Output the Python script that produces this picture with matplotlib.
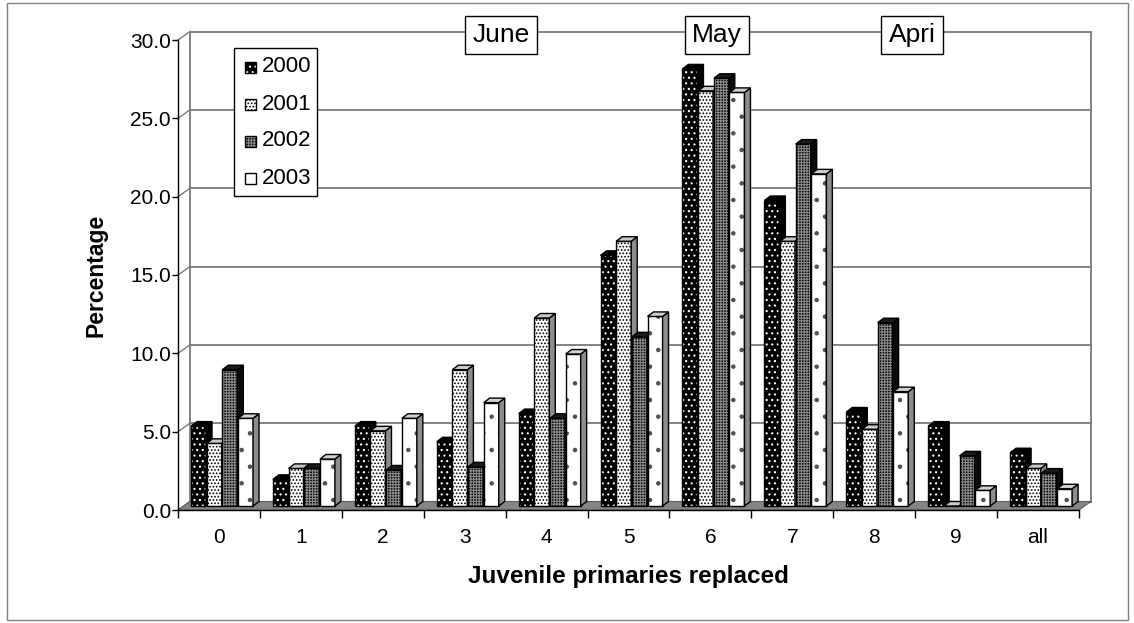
import matplotlib
matplotlib.use("Agg")
import matplotlib.pyplot as plt
from matplotlib.patches import Rectangle, Polygon

# ---- data -------------------------------------------------------------
categories = ["0", "1", "2", "3", "4", "5", "6", "7", "8", "9", "all"]
years = ["2000", "2001", "2002", "2003"]
pct_2000 = [5.1, 1.7, 5.1, 4.1, 5.9, 16.0, 27.9, 19.5, 6.0, 5.1, 3.4]
pct_2001 = [4.0, 2.4, 4.8, 8.7, 12.0, 16.9, 26.5, 16.9, 4.9, 0.0, 2.4]
pct_2002 = [8.7, 2.4, 2.3, 2.5, 5.6, 10.8, 27.3, 23.1, 11.7, 3.2, 2.1]
pct_2003 = [5.6, 3.0, 5.6, 6.6, 9.7, 12.1, 26.4, 21.2, 7.3, 1.0, 1.1]
y_ticks = [0, 5, 10, 15, 20, 25, 30]
month_labels = ["June", "May", "Apri"]

series = [pct_2000, pct_2001, pct_2002, pct_2003]

# ---- figure / axes ----------------------------------------------------
W, H = 1134, 623
FONT = "Liberation Sans"
plt.rcParams["hatch.linewidth"] = 0.8
fig = plt.figure(figsize=(W / 100, H / 100), dpi=100)
fig.patch.set_facecolor("white")


def fx(x):
    return x / W


def fy(y):
    return 1 - y / H


# front plane of the chart: left axis at x=178 px, floor front edge at y=510 px
ax = fig.add_axes([fx(178), fy(510), (1079 - 178) / W, (510 - 40) / H])
ax.set_xlim(-0.5, len(categories) - 0.5)
ax.set_ylim(0, 30)
ax.patch.set_visible(False)

xu = (1079 - 178) / len(categories)   # px per category
yu = (510 - 40) / 30.0                 # px per percent

# depth of the back wall and of each column, in data units
wall_dx, wall_dy = 12 / xu, 8.5 / yu
bar_dx, bar_dy = 6 / xu, 4.5 / yu
base_dy = 4 / yu

# outer frame
fig.add_artist(Rectangle((fx(7), fy(620)), (1128 - 7) / W, (620 - 3) / H,
                         transform=fig.transFigure, fill=False,
                         edgecolor="#808080", lw=1.0))

grid_col = "#7a7a7a"
x_left, x_right = -0.5, len(categories) - 0.5

# floor
ax.add_patch(Polygon([(x_left, 0), (x_right, 0),
                      (x_right + wall_dx, wall_dy), (x_left + wall_dx, wall_dy)],
                     closed=True, facecolor="#858585", edgecolor="#606060",
                     lw=0.8, clip_on=False, zorder=1))

# back wall gridlines, edges and the side connectors
for v in y_ticks:
    ax.plot([x_left + wall_dx, x_right + wall_dx], [v + wall_dy, v + wall_dy],
            color=grid_col, lw=1.3, clip_on=False, zorder=0.5)
    ax.plot([x_left, x_left + wall_dx], [v, v + wall_dy],
            color=grid_col, lw=1.0, clip_on=False, zorder=0.5)
for xe in (x_left + wall_dx, x_right + wall_dx):
    ax.plot([xe, xe], [wall_dy, 30 + wall_dy], color=grid_col, lw=1.3,
            clip_on=False, zorder=0.5)

# ---- columns -----------------------------------------------------------
styles = [
    dict(face="#000000", hatch="...", hcol="white", side="#000000", top="#000000"),
    dict(face="#ffffff", hatch=".....", hcol="black", side="#8c8c8c", top="#c8c8c8"),
    dict(face="#0a0a0a", hatch="++++++", hcol="#8a8a8a", side="#0a0a0a", top="#1a1a1a"),
    dict(face="#ffffff", hatch=".", hcol="#505050", side="#8c8c8c", top="#d0d0d0"),
]

first_off = 13 / xu
step = 15.67 / xu
bw = 15 / xu

for i in range(len(categories)):
    for k, vals in enumerate(series):
        st = styles[k]
        v = vals[i]
        x0 = i - 0.5 + first_off + k * step
        y0 = base_dy
        y1 = y0 + v
        z = 3 + k * 0.1
        # front face
        ax.add_patch(Rectangle((x0, y0), bw, v, facecolor=st["face"],
                               edgecolor="none", clip_on=False, zorder=z))
        ax.add_patch(Rectangle((x0, y0), bw, v, facecolor="none",
                               edgecolor=st["hcol"], hatch=st["hatch"], lw=0,
                               clip_on=False, zorder=z + 0.01))
        ax.add_patch(Rectangle((x0, y0), bw, v, facecolor="none",
                               edgecolor="black", lw=1.0, clip_on=False,
                               zorder=z + 0.02))
        # side face
        side = [(x0 + bw, y0), (x0 + bw + bar_dx, y0 + bar_dy),
                (x0 + bw + bar_dx, y1 + bar_dy), (x0 + bw, y1)]
        ax.add_patch(Polygon(side, closed=True, facecolor=st["side"],
                             edgecolor="black", lw=1.0, clip_on=False,
                             zorder=z + 0.03))
        # top face
        top = [(x0, y1), (x0 + bar_dx, y1 + bar_dy),
               (x0 + bw + bar_dx, y1 + bar_dy), (x0 + bw, y1)]
        ax.add_patch(Polygon(top, closed=True, facecolor=st["top"],
                             edgecolor="black", lw=1.0, clip_on=False,
                             zorder=z + 0.04))

# ---- axes, ticks, labels -----------------------------------------------
for s in ("top", "right"):
    ax.spines[s].set_visible(False)
for s in ("left", "bottom"):
    ax.spines[s].set_color("black")
    ax.spines[s].set_linewidth(1.0)
    ax.spines[s].set_zorder(6)

ax.set_yticks(y_ticks)
ax.set_yticklabels([f"{t:.1f}" for t in y_ticks], fontsize=15, family=FONT)
ax.tick_params(axis="y", direction="out", length=4, width=1.0, pad=1)

ax.set_xticks([i - 0.5 for i in range(len(categories) + 1)])
ax.set_xticklabels([])
ax.tick_params(axis="x", which="major", direction="out", length=6, width=1.0)
ax.set_xticks(range(len(categories)), minor=True)
ax.set_xticklabels(categories, minor=True, fontsize=15, family=FONT)
ax.tick_params(axis="x", which="minor", length=0, pad=13)

fig.text(fx(628), fy(577), "Juvenile primaries replaced", ha="center",
         va="center", fontsize=17.5, fontweight="bold", family=FONT)
fig.text(fx(96), fy(275), "Percentage", ha="center", va="center",
         rotation=90, fontsize=16.5, fontweight="bold", family=FONT)

# ---- legend ------------------------------------------------------------
fig.add_artist(Rectangle((fx(234), fy(196)), (317 - 234) / W, (196 - 48) / H,
                         transform=fig.transFigure, facecolor="white",
                         edgecolor="black", lw=1.0, zorder=10))
for k, yr in enumerate(years):
    cy = 67 + k * 37
    st = styles[k]
    sw = (fx(245), fy(cy + 6))
    size = (11 / W, 11 / H)
    fig.add_artist(Rectangle(sw, *size, transform=fig.transFigure,
                             facecolor=st["face"], edgecolor="none", zorder=11))
    fig.add_artist(Rectangle(sw, *size, transform=fig.transFigure,
                             facecolor="none", edgecolor=st["hcol"],
                             hatch=st["hatch"], lw=0, zorder=11.1))
    fig.add_artist(Rectangle(sw, *size, transform=fig.transFigure,
                             facecolor="none", edgecolor="black", lw=1.0,
                             zorder=11.2))
    fig.text(fx(262), fy(cy), yr, ha="left", va="center", fontsize=16,
             family=FONT, zorder=12)

# ---- month labels --------------------------------------------------------
month_px = [501, 717, 912]
for lab, xp in zip(month_labels, month_px):
    fig.text(fx(xp), fy(35), lab, ha="center", va="center", fontsize=19,
             family=FONT, zorder=12,
             bbox=dict(boxstyle="square,pad=0.28", facecolor="white",
                       edgecolor="black", lw=1.0))

fig.savefig("out.png", dpi=100)
